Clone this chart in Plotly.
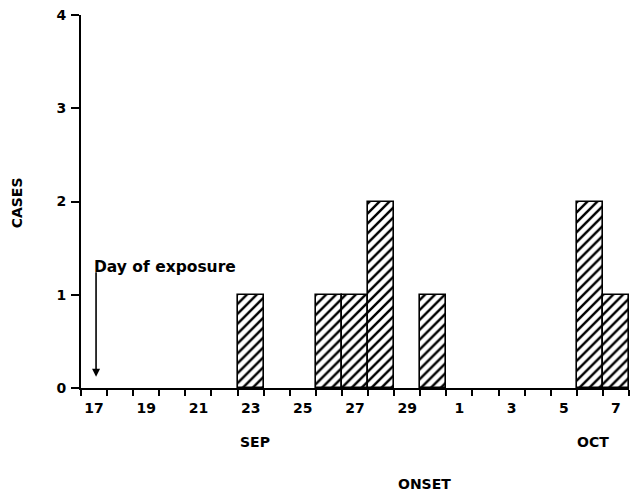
import plotly.graph_objects as go

# Day labels along the onset axis (Sep 17 .. Oct 7)
day_labels = ["17", "18", "19", "20", "21", "22", "23", "24", "25", "26", "27", "28", "29", "30",
              "1", "2", "3", "4", "5", "6", "7"]
month_of_day = ["SEP"] * 14 + ["OCT"] * 7
tick_labels = ["17", "19", "21", "23", "25", "27", "29", "1", "3", "5", "7"]

# Cases by onset date
onset_month = ["SEP", "SEP", "SEP", "SEP", "SEP", "OCT", "OCT"]
onset_day = ["23", "26", "27", "28", "30", "6", "7"]
cases = [1, 1, 1, 2, 1, 2, 1]

y_ticks = [0, 1, 2, 3, 4]
exposure_day = ("SEP", "17")


def day_index(month, day):
    for i, (m, d) in enumerate(zip(month_of_day, day_labels)):
        if m == month and d == day:
            return i
    raise ValueError(day)


bar_x = [day_index(m, d) for m, d in zip(onset_month, onset_day)]
tick_x = [i for i, d in enumerate(day_labels)
          if d in tick_labels and not (d == "1" and month_of_day[i] == "SEP")]
boundaries = [i - 0.5 for i in range(len(day_labels) + 1)]

FONT = "DejaVu Sans, Verdana, sans-serif"

fig = go.Figure()
fig.add_trace(go.Bar(
    x=bar_x, y=cases, width=1,
    marker=dict(color="white",
                line=dict(color="black", width=1.6),
                pattern=dict(shape="/", fgcolor="black", bgcolor="white", fgopacity=1,
                             size=7, solidity=0.35)),
    showlegend=False, hoverinfo="skip",
))

fig.update_layout(
    width=634, height=492,
    margin=dict(l=81, r=5, t=15, b=104),
    paper_bgcolor="white", plot_bgcolor="white",
    font=dict(family=FONT, size=14, color="black", weight="bold"),
    bargap=0,
    xaxis=dict(
        range=[-0.5, len(day_labels) - 0.5],
        tickmode="array", tickvals=tick_x, ticktext=tick_labels,
        ticks="", showgrid=False, zeroline=False,
        showline=True, linecolor="black", linewidth=2,
        tickfont=dict(family=FONT, size=14, color="black", weight="bold"),
        minor=dict(tickmode="array", tickvals=boundaries, ticks="outside", ticklen=6,
                   tickwidth=1.5, tickcolor="black", showgrid=False),
        ticklabelstandoff=6,
    ),
    yaxis=dict(
        range=[0, 4], tickmode="array", tickvals=y_ticks,
        ticks="outside", ticklen=8, tickwidth=1.5, tickcolor="black",
        showgrid=False, zeroline=False,
        showline=True, linecolor="black", linewidth=2,
        tickfont=dict(family=FONT, size=14, color="black", weight="bold"),
        ticklabelstandoff=2,
    ),
)

plot_w = 634 - 81 - 5
plot_h = 492 - 15 - 104
annotations = [
    dict(text="SEP", x=day_index("SEP", "23"), xref="x", y=(388 - 441.5) / plot_h, yref="paper",
         showarrow=False, xanchor="center", yanchor="middle", xshift=4),
    dict(text="OCT", x=day_index("OCT", "6"), xref="x", y=(388 - 441.5) / plot_h, yref="paper",
         showarrow=False, xanchor="center", yanchor="middle", xshift=3),
    dict(text="ONSET", x=(424 - 81) / plot_w, xref="paper", y=(388 - 484) / plot_h, yref="paper",
         showarrow=False, xanchor="center", yanchor="middle"),
    dict(text="CASES", x=(17 - 81) / plot_w, xref="paper", y=0.495, yref="paper", textangle=-90,
         showarrow=False, xanchor="center", yanchor="middle", font=dict(size=14)),
    dict(text="Day of exposure", x=-0.5, xref="x", y=1.30, yref="y",
         showarrow=False, xanchor="left", yanchor="middle", xshift=11, font=dict(size=15.5)),
    dict(text="", x=day_index(*exposure_day), xref="x", y=0.12, yref="y",
         showarrow=True, ax=0, ay=-106, arrowhead=2, arrowsize=1, arrowwidth=1.6,
         arrowcolor="black", xshift=2),
]
fig.update_layout(annotations=annotations)

fig.write_html("out.html", config={"displayModeBar": False},
               post_script="document.body.style.margin='0';")
